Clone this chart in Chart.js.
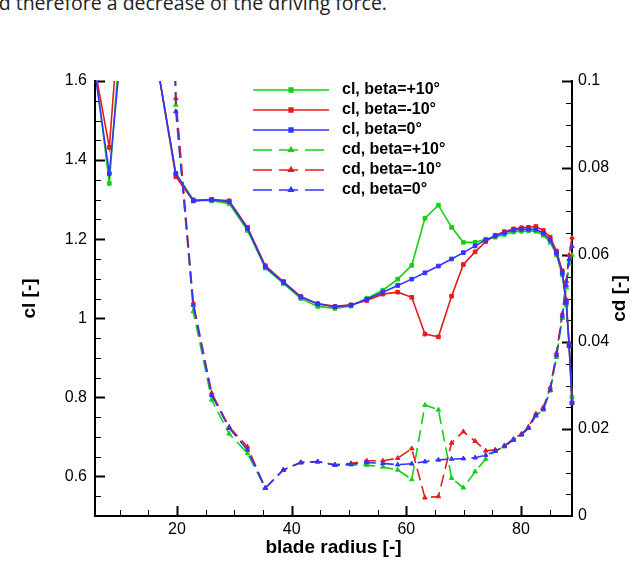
<!DOCTYPE html>
<html>
<head>
<meta charset="utf-8">
<script src="https://cdn.jsdelivr.net/npm/chart.js@4.4.1/dist/chart.umd.min.js"></script>
<style>
  html, body { margin: 0; padding: 0; background: #fff; }
  #wrap { position: relative; width: 633px; height: 569px; overflow: hidden; }
  #prose { position: absolute; right: 246px; top: -7px; white-space: nowrap;
           font: 19.5px "Open Sans", sans-serif; line-height: 20px; color: #222; }
  #chart { position: absolute; left: 0; top: 0; }
</style>
</head>
<body>
<div id="wrap">
  <div id="prose">and therefore a decrease of the driving force.</div>
  <canvas id="chart" width="633" height="569"></canvas>
</div>
<script>
// blade radius stations (shared by all series)
const radius = [5.7, 8.2, 11.0, 13.9, 16.8, 19.8, 22.85, 26.05, 29.1, 32.3, 35.4, 38.55, 41.6, 44.55, 47.55,
  50.35, 53.1, 55.9, 58.5, 60.95, 63.25, 65.6, 67.9, 69.95, 72.0, 73.85, 75.5, 77.1, 78.7, 80.1, 81.3, 82.6,
  83.9, 85.1, 86.2, 87.2, 87.9, 88.4, 88.9];

// lift coefficient
const clPlus10 = [1.635, 1.341, 1.88, 1.95, 1.62, 1.366, 1.300, 1.297, 1.290, 1.222, 1.127, 1.088, 1.050, 1.030, 1.025,
  1.031, 1.050, 1.071, 1.099, 1.134, 1.253, 1.286, 1.230, 1.192, 1.192, 1.200, 1.205, 1.212, 1.218, 1.220, 1.221, 1.220,
  1.210, 1.192, 1.160, 1.110, 1.035, 0.930, 0.800];
const clMinus10 = [1.63, 1.432, 1.97, 1.95, 1.62, 1.358, 1.297, 1.301, 1.297, 1.230, 1.133, 1.093, 1.055, 1.037, 1.030,
  1.034, 1.045, 1.061, 1.066, 1.053, 0.960, 0.953, 1.056, 1.136, 1.168, 1.194, 1.210, 1.219, 1.226, 1.229, 1.230, 1.232,
  1.222, 1.205, 1.170, 1.120, 1.045, 0.935, 0.786];
const clZero = [1.62, 1.366, 1.80, 1.95, 1.62, 1.366, 1.297, 1.299, 1.295, 1.227, 1.130, 1.091, 1.054, 1.036, 1.029,
  1.033, 1.048, 1.066, 1.083, 1.099, 1.115, 1.132, 1.150, 1.166, 1.183, 1.198, 1.208, 1.216, 1.223, 1.225, 1.225, 1.225,
  1.215, 1.198, 1.165, 1.115, 1.040, 0.930, 0.786];

// drag coefficient
const cdPlus10 = [0.9, 0.7, 0.55, 0.42, 0.3, 0.0945, 0.047, 0.0267, 0.0189, 0.0144, 0.0064, 0.0106, 0.0123, 0.0125, 0.0117,
  0.0118, 0.0117, 0.0113, 0.0106, 0.0084, 0.0255, 0.0244, 0.0087, 0.0065, 0.0102, 0.0131, 0.0149, 0.0160, 0.0175, 0.0187,
  0.0202, 0.0230, 0.0244, 0.0288, 0.0365, 0.0455, 0.0525, 0.0580, 0.0600];
const cdMinus10 = [0.9, 0.7, 0.55, 0.42, 0.3, 0.096, 0.049, 0.0283, 0.0205, 0.0159, 0.0064, 0.0106, 0.0123, 0.0125, 0.0118,
  0.0121, 0.0127, 0.0127, 0.0133, 0.0155, 0.0042, 0.0045, 0.0168, 0.0194, 0.0172, 0.0150, 0.0152, 0.0162, 0.0177, 0.0189,
  0.0205, 0.0235, 0.0250, 0.0295, 0.0375, 0.0465, 0.0540, 0.0600, 0.0640];
const cdZero = [0.9, 0.7, 0.55, 0.42, 0.3, 0.093, 0.0485, 0.0278, 0.0202, 0.0152, 0.0064, 0.0106, 0.0123, 0.0125, 0.0117,
  0.0119, 0.0123, 0.0121, 0.0118, 0.0120, 0.0125, 0.0129, 0.0131, 0.0132, 0.0134, 0.0140, 0.0149, 0.0160, 0.0175, 0.0187,
  0.0202, 0.0232, 0.0246, 0.0290, 0.0370, 0.0460, 0.0530, 0.0590, 0.0620];

const xTicks = [20, 40, 60, 80];
const clTicks = [0.6, 0.8, 1, 1.2, 1.4, 1.6];
const cdTicks = [0, 0.02, 0.04, 0.06, 0.08, 0.1];

const GREEN = "#16d016", RED = "#e61c1c", BLUE = "#3434ff";
const FONT = "'Liberation Sans', Arial, sans-serif";

const pts = (arr) => radius.map((r, i) => ({ x: r, y: arr[i] }));

function series(label, arr, color, axis, order) {
  const dashed = axis === "yCd";
  return {
    label, data: pts(arr), yAxisID: axis, order,
    borderColor: color, backgroundColor: color, borderWidth: 1.6,
    borderDash: dashed ? [12, 6] : [],
    pointStyle: dashed ? "triangle" : "rect",
    pointRadius: 2.6, pointBorderWidth: 1,
    pointBackgroundColor: color, pointBorderColor: color,
    tension: 0, clip: { left: 0, top: 0, right: 4, bottom: 0 },
  };
}

const frame = {
  id: "frame",
  beforeDatasetsDraw(chart) {
    const { ctx, chartArea: a, scales } = chart;
    const line = (x1, y1, x2, y2, w) => {
      ctx.lineWidth = w; ctx.beginPath(); ctx.moveTo(x1, y1); ctx.lineTo(x2, y2); ctx.stroke();
    };
    ctx.save();
    ctx.strokeStyle = "#000";
    const x = scales.x, yl = scales.yCl, yr = scales.yCd;
    for (let v = 10; v <= 85; v += 5) {
      const px = Math.round(x.getPixelForValue(v)) + 0.5;
      const major = xTicks.includes(v);
      line(px, a.bottom, px, a.bottom - (major ? 10 : 6), major ? 2 : 1);
    }
    for (let k = 11; k <= 32; k++) {
      const py = Math.round(yl.getPixelForValue(k * 0.05)) + 0.5;
      const major = k % 4 === 0;
      line(a.left, py, a.left + (major ? 10 : 6), py, major ? 2 : 1);
    }
    for (let k = 1; k <= 20; k++) {
      const py = Math.round(yr.getPixelForValue(k * 0.005)) + 0.5;
      const major = k % 4 === 0;
      line(a.right, py, a.right - (major ? 10 : 6), py, major ? 2 : 1);
    }
    ctx.restore();
  },
  afterDraw(chart) {
    const { ctx, chartArea: a } = chart;
    ctx.save();
    ctx.fillStyle = "#000";
    ctx.font = "bold 19px " + FONT;
    ctx.textAlign = "center";
    ctx.textBaseline = "middle";
    ctx.fillText("blade radius [-]", (a.left + a.right) / 2, 548);
    const mid = (a.top + a.bottom) / 2;
    [["cl [-]", 30], ["cd [-]", 620]].forEach(([t, px]) => {
      ctx.save(); ctx.translate(px, mid); ctx.rotate(-Math.PI / 2);
      ctx.fillText(t, 0, 0); ctx.restore();
    });

    // legend
    ctx.font = "bold 16px " + FONT;
    ctx.textAlign = "left";
    chart.data.datasets.forEach((ds, i) => {
      const y = 90 + 20 * i;
      ctx.strokeStyle = ds.borderColor;
      ctx.fillStyle = ds.borderColor;
      ctx.lineWidth = 1.6;
      ctx.setLineDash(ds.pointStyle === "triangle" ? [19, 7] : []);
      ctx.beginPath(); ctx.moveTo(253, y); ctx.lineTo(329, y); ctx.stroke();
      ctx.setLineDash([]);
      Chart.helpers.drawPoint(ctx, { pointStyle: ds.pointStyle, radius: 2.6, rotation: 0, borderWidth: 1 }, 291, y);
      ctx.fillStyle = "#000";
      ctx.fillText(ds.label, 342, y);
    });
    ctx.restore();
  },
};

const tickFont = { family: FONT, size: 16 };
const fmt = (v) => String(+(+v).toFixed(3));

new Chart(document.getElementById("chart"), {
  type: "line",
  data: {
    datasets: [
      series("cl, beta=+10°", clPlus10, GREEN, "yCl", 3),
      series("cl, beta=-10°", clMinus10, RED, "yCl", 2),
      series("cl, beta=0°", clZero, BLUE, "yCl", 1),
      series("cd, beta=+10°", cdPlus10, GREEN, "yCd", 6),
      series("cd, beta=-10°", cdMinus10, RED, "yCd", 5),
      series("cd, beta=0°", cdZero, BLUE, "yCd", 4),
    ],
  },
  options: {
    responsive: false,
    animation: false,
    events: [],
    layout: { padding: { top: 81, left: 0, right: 0, bottom: 0 } },
    plugins: { legend: { display: false }, tooltip: { enabled: false } },
    scales: {
      x: {
        type: "linear", min: 5.7, max: 88.9,
        grid: { display: false, drawTicks: false },
        border: { display: true, color: "#000", width: 2 },
        afterBuildTicks: (s) => { s.ticks = xTicks.map((v) => ({ value: v })); },
        afterFit: (s) => { s.height = 53; },
        ticks: { color: "#000", font: tickFont, padding: 4, maxRotation: 0, callback: fmt },
      },
      yCl: {
        type: "linear", position: "left", min: 0.5, max: 1.6,
        grid: { display: false, drawTicks: false },
        border: { display: true, color: "#000", width: 2 },
        afterBuildTicks: (s) => { s.ticks = clTicks.map((v) => ({ value: v })); },
        afterFit: (s) => { s.width = 95; },
        ticks: { color: "#000", font: tickFont, padding: 8, callback: fmt },
      },
      yCd: {
        type: "linear", position: "right", min: 0, max: 0.1,
        grid: { display: false, drawTicks: false },
        border: { display: true, color: "#000", width: 2 },
        afterBuildTicks: (s) => { s.ticks = cdTicks.map((v) => ({ value: v })); },
        afterFit: (s) => { s.width = 61; },
        ticks: { color: "#000", font: tickFont, padding: 6, callback: fmt },
      },
    },
  },
  plugins: [frame],
});
</script>
</body>
</html>
